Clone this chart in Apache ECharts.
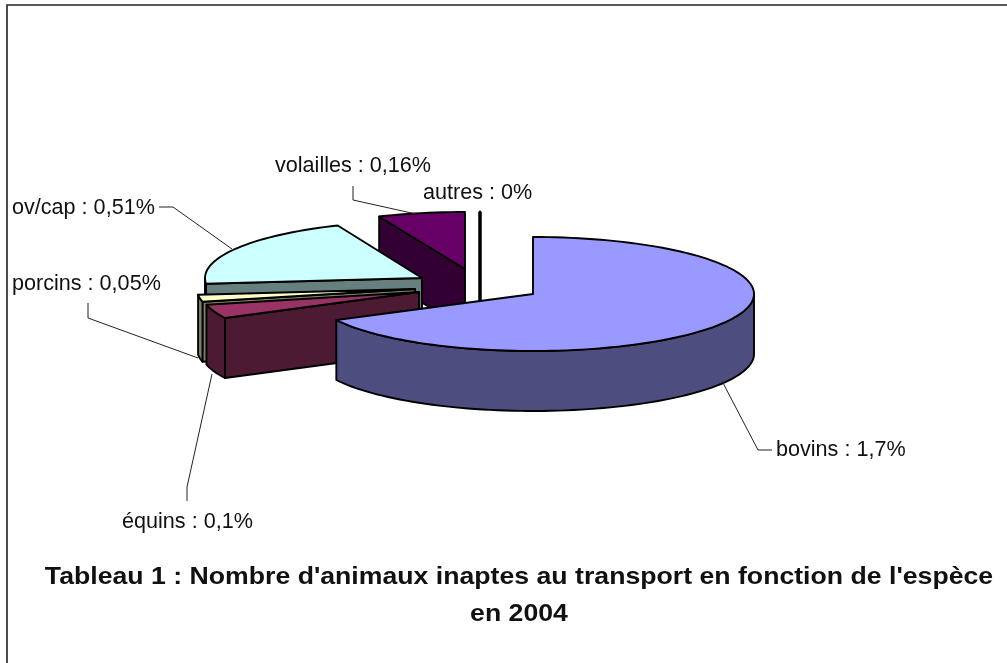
<!DOCTYPE html>
<html>
<head>
<meta charset="utf-8">
<style>html,body{margin:0;padding:0;background:#fff}#chart{width:1007px;height:663px}</style>
<script src="https://cdn.jsdelivr.net/npm/echarts@6/dist/echarts.min.js"></script>
</head>
<body>
<div id="chart"></div>
<script>
// Data, in back-to-front drawing order (walking anticlockwise from 12 o'clock)
const categories = ['autres', 'volailles', 'ov/cap', 'porcins', 'équins', 'bovins'];
const values = [0, 0.16, 0.51, 0.05, 0.1, 1.7];
const valueLabels = ['0%', '0,16%', '0,51%', '0,05%', '0,1%', '1,7%'];
const titleText = "Tableau 1 : Nombre d'animaux inaptes au transport en fonction de l'espèce\nen 2004";

// Styles
const topColors = ['#ffffff', '#660066', '#ccffff', '#ffffcc', '#993366', '#9999ff'];
const wallColors = ['#808080', '#330033', '#668080', '#808066', '#4d1a33', '#4d4d80'];
const outlineWidths = [3, 1.9, 1.9, 1.9, 1.9, 1.9];

// Layout: each exploded slice's apex, ellipse radii, wall height
const apexX = [480, 465, 422, 415, 419, 533];
const apexY = [269, 269, 278, 289, 292, 294];
const radiusX = [221, 221, 217, 218, 218, 221];
const RY = 57, DEPTH = 60;

// Label placement and leader lines
const labelX = [423, 275, 12, 12, 122, 776];
const labelY = [193, 166, 208, 284, 522, 450];
const leaders = [
  [],
  [[353, 186], [353, 200], [416, 214]],
  [[159, 207], [173, 207], [232, 249]],
  [[88, 303], [88, 318], [198, 358]],
  [[187, 501], [187, 487], [212, 374]],
  [[772, 450], [758, 450], [722, 381]]
];

const total = values.reduce(function (a, b) { return a + b; }, 0);
const rad = function (d) { return d * Math.PI / 180; };

function rimPoint(i, deg, dy) {
  return [apexX[i] + radiusX[i] * Math.sin(rad(deg)), apexY[i] - RY * Math.cos(rad(deg)) + (dy || 0)];
}
function arcPoints(i, from, to, dy) {
  const out = [];
  const n = Math.max(1, Math.ceil(Math.abs(to - from) / 2));
  for (let k = 0; k <= n; k++) out.push(rimPoint(i, from + (to - from) * k / n, dy));
  return out;
}

function renderSlice(params, api) {
  const i = params.dataIndex;
  let before = 0;
  for (let k = 0; k < i; k++) before += values[k];
  const a1 = 360 - before / total * 360;
  const a0 = a1 - api.value(1) / total * 360;
  const apex = [apexX[i], apexY[i]];
  const apexLow = [apexX[i], apexY[i] + DEPTH];
  const style = { stroke: '#000', lineWidth: outlineWidths[i], lineJoin: 'round' };
  const poly = function (points, fill) {
    return { type: 'polygon', shape: { points: points }, style: Object.assign({ fill: fill }, style) };
  };
  const children = [];
  // cut faces
  if (Math.sin(rad(a0)) < 0) {
    children.push(poly([apex, rimPoint(i, a0), rimPoint(i, a0, DEPTH), apexLow], wallColors[i]));
  }
  if (a1 > 0 && a1 < 180) {
    children.push(poly([apex, rimPoint(i, a1), rimPoint(i, a1, DEPTH), apexLow], wallColors[i]));
  }
  // outer wall (only the front half of the rim faces the viewer)
  const w0 = Math.max(a0, 90), w1 = Math.min(a1, 270);
  if (w1 > w0) {
    children.push(poly(arcPoints(i, w0, w1).concat(arcPoints(i, w1, w0, DEPTH)), wallColors[i]));
  }
  // top face
  if (a1 > a0) {
    children.push(poly([apex].concat(arcPoints(i, a0, a1)), topColors[i]));
  }
  if (i === 0) {
    children.push({ type: 'polyline', shape: { points: [rimPoint(i, 0), rimPoint(i, 0, DEPTH + 30)] }, style: { stroke: '#000', lineWidth: outlineWidths[i], fill: 'none' } });
  }
  return { type: 'group', children: children };
}

function renderLabel(params, api) {
  const i = params.dataIndex;
  const children = [{
    type: 'text',
    style: {
      x: labelX[i], y: labelY[i], text: api.value(0) + ' : ' + valueLabels[i],
      fill: '#111', font: '21.6px "Liberation Sans", Arial, sans-serif',
      textAlign: 'left', textVerticalAlign: 'middle'
    }
  }];
  if (leaders[i].length) {
    children.push({ type: 'polyline', shape: { points: leaders[i] }, style: { stroke: '#222', lineWidth: 1, fill: 'none' } });
  }
  return { type: 'group', children: children };
}

const seriesData = categories.map(function (c, i) { return [c, values[i]]; });

const chart = echarts.init(document.getElementById('chart'), null, { renderer: 'canvas' });
chart.setOption({
  animation: false,
  backgroundColor: '#fff',
  graphic: [{
    type: 'rect', silent: true, z: -1,
    shape: { x: 7, y: 5, width: 1100, height: 800 },
    style: { fill: 'none', stroke: '#222', lineWidth: 1.6 }
  }, {
    type: 'text', silent: true, x: 519, y: 559, scaleX: 1.088,
    style: {
      text: titleText, textAlign: 'center', fill: '#111', lineHeight: 37,
      font: 'bold 24.5px "Liberation Sans", Arial, sans-serif'
    }
  }],
  series: [
    { type: 'custom', coordinateSystem: 'none', clip: false, data: seriesData, renderItem: renderSlice, z: 2, dimensions: ['name', 'value'] },
    { type: 'custom', coordinateSystem: 'none', clip: false, data: seriesData, renderItem: renderLabel, z: 3, dimensions: ['name', 'value'] }
  ]
});
</script>
</body>
</html>
